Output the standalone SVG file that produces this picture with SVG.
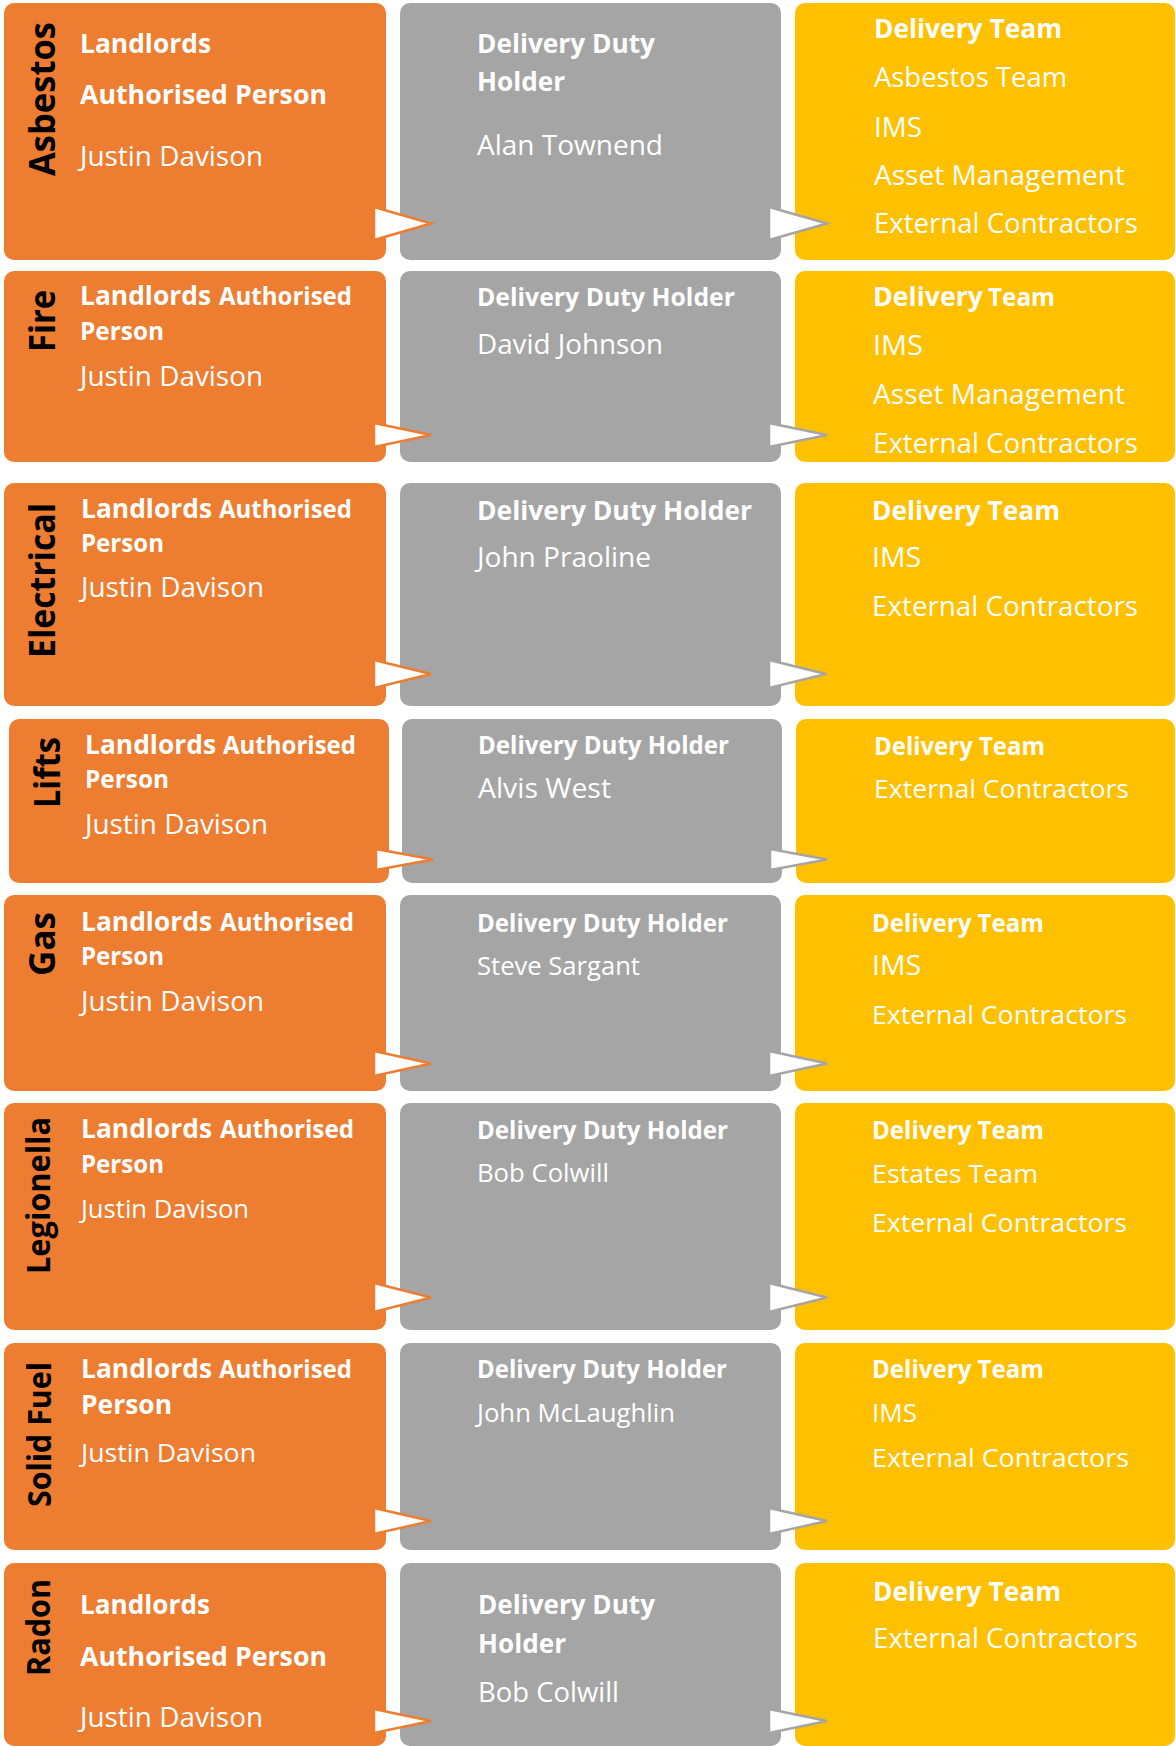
<svg xmlns="http://www.w3.org/2000/svg" width="1176" height="1746" viewBox="0 0 1176 1746">
<style>
.o{fill:#ED7D31}
.g{fill:#A5A5A5}
.y{fill:#FFC000}
text{font-family:"Open Sans","Noto Sans","Liberation Sans",sans-serif;fill:#FFFFFF}
.bL{font-weight:700;font-size:27px}
.bS{font-weight:700;font-size:25px}
.rL{font-weight:400;font-size:28px}
.rS{font-weight:400;font-size:26px}
.lbl{font-weight:700;font-size:35px;fill:#000000}
.lbs{font-weight:700;font-size:33px;fill:#000000}
.ao{fill:#FFFFFF;stroke:#ED7D31;stroke-width:2.5}
.ag{fill:#FFFFFF;stroke:#A5A5A5;stroke-width:2.5}
</style>

<!-- Row 1: Asbestos -->
<g id="asbestos-authorised">
<rect class="o" x="4" y="3" width="382" height="257" rx="10"/>
<text class="lbl" transform="translate(55,22) rotate(-90)" text-anchor="end" textLength="154" lengthAdjust="spacingAndGlyphs">Asbestos</text>
<text class="bL" x="80" y="53" textLength="131" lengthAdjust="spacingAndGlyphs">Landlords</text>
<text class="bL" x="80" y="104" textLength="247" lengthAdjust="spacingAndGlyphs">Authorised Person</text>
<text class="rL" x="80" y="166" textLength="183" lengthAdjust="spacingAndGlyphs">Justin Davison</text>
</g>
<g id="asbestos-duty-holder">
<rect class="g" x="400" y="3" width="381" height="257" rx="10"/>
<text class="bL" x="477" y="53" textLength="178" lengthAdjust="spacingAndGlyphs">Delivery Duty</text>
<text class="bL" x="477" y="91" textLength="88" lengthAdjust="spacingAndGlyphs">Holder</text>
<text class="rL" x="477" y="155" textLength="186" lengthAdjust="spacingAndGlyphs">Alan Townend</text>
</g>
<g id="asbestos-delivery-team">
<rect class="y" x="795" y="3" width="380" height="257" rx="10"/>
<text class="bL" x="874" y="38" textLength="188" lengthAdjust="spacingAndGlyphs">Delivery Team</text>
<text class="rL" x="874" y="87" textLength="193" lengthAdjust="spacingAndGlyphs">Asbestos Team</text>
<text class="rL" x="874" y="137" textLength="48" lengthAdjust="spacingAndGlyphs">IMS</text>
<text class="rL" x="874" y="185" textLength="251" lengthAdjust="spacingAndGlyphs">Asset Management</text>
<text class="rL" x="874" y="233" textLength="264" lengthAdjust="spacingAndGlyphs">External Contractors</text>
</g>

<!-- Row 2: Fire -->
<g id="fire-authorised">
<rect class="o" x="4" y="271" width="382" height="191" rx="10"/>
<text class="lbl" transform="translate(55,290) rotate(-90)" text-anchor="end" textLength="62" lengthAdjust="spacingAndGlyphs">Fire</text>
<text class="bL" x="80" y="305" textLength="131" lengthAdjust="spacingAndGlyphs">Landlords</text>
<text class="bS" x="219" y="305" textLength="133" lengthAdjust="spacingAndGlyphs">Authorised</text>
<text class="bS" x="80" y="340" textLength="84" lengthAdjust="spacingAndGlyphs">Person</text>
<text class="rL" x="80" y="386" textLength="183" lengthAdjust="spacingAndGlyphs">Justin Davison</text>
</g>
<g id="fire-duty-holder">
<rect class="g" x="400" y="271" width="381" height="191" rx="10"/>
<text class="bS" x="477" y="306" textLength="258" lengthAdjust="spacingAndGlyphs">Delivery Duty Holder</text>
<text class="rL" x="477" y="354" textLength="186" lengthAdjust="spacingAndGlyphs">David Johnson</text>
</g>
<g id="fire-delivery-team">
<rect class="y" x="795" y="271" width="380" height="191" rx="10"/>
<text class="bL" x="873" y="306" textLength="110" lengthAdjust="spacingAndGlyphs">Delivery</text>
<text class="bS" x="988" y="306" textLength="67" lengthAdjust="spacingAndGlyphs">Team</text>
<text class="rL" x="873" y="355" textLength="50" lengthAdjust="spacingAndGlyphs">IMS</text>
<text class="rL" x="873" y="404" textLength="252" lengthAdjust="spacingAndGlyphs">Asset Management</text>
<text class="rL" x="873" y="453" textLength="265" lengthAdjust="spacingAndGlyphs">External Contractors</text>
</g>

<!-- Row 3: Electrical -->
<g id="electrical-authorised">
<rect class="o" x="4" y="483" width="382" height="223" rx="10"/>
<text class="lbl" transform="translate(55,503) rotate(-90)" text-anchor="end" textLength="155" lengthAdjust="spacingAndGlyphs">Electrical</text>
<text class="bL" x="81" y="518" textLength="131" lengthAdjust="spacingAndGlyphs">Landlords</text>
<text class="bS" x="219" y="518" textLength="133" lengthAdjust="spacingAndGlyphs">Authorised</text>
<text class="bS" x="81" y="552" textLength="83" lengthAdjust="spacingAndGlyphs">Person</text>
<text class="rL" x="81" y="597" textLength="183" lengthAdjust="spacingAndGlyphs">Justin Davison</text>
</g>
<g id="electrical-duty-holder">
<rect class="g" x="400" y="483" width="381" height="223" rx="10"/>
<text class="bL" x="477" y="520" textLength="275" lengthAdjust="spacingAndGlyphs">Delivery Duty Holder</text>
<text class="rL" x="477" y="567" textLength="174" lengthAdjust="spacingAndGlyphs">John Praoline</text>
</g>
<g id="electrical-delivery-team">
<rect class="y" x="795" y="483" width="380" height="223" rx="10"/>
<text class="bL" x="872" y="520" textLength="188" lengthAdjust="spacingAndGlyphs">Delivery Team</text>
<text class="rL" x="872" y="567" textLength="49" lengthAdjust="spacingAndGlyphs">IMS</text>
<text class="rL" x="872" y="616" textLength="266" lengthAdjust="spacingAndGlyphs">External Contractors</text>
</g>

<!-- Row 4: Lifts -->
<g id="lifts-authorised">
<rect class="o" x="9" y="719" width="380" height="164" rx="10"/>
<text class="lbl" transform="translate(60,737) rotate(-90)" text-anchor="end" textLength="71" lengthAdjust="spacingAndGlyphs">Lifts</text>
<text class="bL" x="85" y="754" textLength="131" lengthAdjust="spacingAndGlyphs">Landlords</text>
<text class="bS" x="223" y="754" textLength="133" lengthAdjust="spacingAndGlyphs">Authorised</text>
<text class="bS" x="85" y="788" textLength="84" lengthAdjust="spacingAndGlyphs">Person</text>
<text class="rL" x="85" y="834" textLength="183" lengthAdjust="spacingAndGlyphs">Justin Davison</text>
</g>
<g id="lifts-duty-holder">
<rect class="g" x="402" y="719" width="380" height="164" rx="10"/>
<text class="bS" x="478" y="754" textLength="251" lengthAdjust="spacingAndGlyphs">Delivery Duty Holder</text>
<text class="rL" x="478" y="798" textLength="133" lengthAdjust="spacingAndGlyphs">Alvis West</text>
</g>
<g id="lifts-delivery-team">
<rect class="y" x="796" y="719" width="379" height="164" rx="10"/>
<text class="bS" x="874" y="755" textLength="171" lengthAdjust="spacingAndGlyphs">Delivery Team</text>
<text class="rS" x="874" y="798" textLength="255" lengthAdjust="spacingAndGlyphs">External Contractors</text>
</g>

<!-- Row 5: Gas -->
<g id="gas-authorised">
<rect class="o" x="4" y="895" width="382" height="196" rx="10"/>
<text class="lbl" transform="translate(55,912) rotate(-90)" text-anchor="end" textLength="64" lengthAdjust="spacingAndGlyphs">Gas</text>
<text class="bL" x="81" y="931" textLength="131" lengthAdjust="spacingAndGlyphs">Landlords</text>
<text class="bS" x="220" y="931" textLength="134" lengthAdjust="spacingAndGlyphs">Authorised</text>
<text class="bS" x="81" y="965" textLength="83" lengthAdjust="spacingAndGlyphs">Person</text>
<text class="rL" x="81" y="1011" textLength="183" lengthAdjust="spacingAndGlyphs">Justin Davison</text>
</g>
<g id="gas-duty-holder">
<rect class="g" x="400" y="895" width="381" height="196" rx="10"/>
<text class="bS" x="477" y="932" textLength="251" lengthAdjust="spacingAndGlyphs">Delivery Duty Holder</text>
<text class="rS" x="477" y="975" textLength="163" lengthAdjust="spacingAndGlyphs">Steve Sargant</text>
</g>
<g id="gas-delivery-team">
<rect class="y" x="795" y="895" width="380" height="196" rx="10"/>
<text class="bS" x="872" y="932" textLength="172" lengthAdjust="spacingAndGlyphs">Delivery Team</text>
<text class="rL" x="872" y="975" textLength="49" lengthAdjust="spacingAndGlyphs">IMS</text>
<text class="rS" x="872" y="1024" textLength="255" lengthAdjust="spacingAndGlyphs">External Contractors</text>
</g>

<!-- Row 6: Legionella -->
<g id="legionella-authorised">
<rect class="o" x="4" y="1103" width="382" height="227" rx="10"/>
<text class="lbs" transform="translate(50,1117) rotate(-90)" text-anchor="end" textLength="157" lengthAdjust="spacingAndGlyphs">Legionella</text>
<text class="bL" x="81" y="1138" textLength="131" lengthAdjust="spacingAndGlyphs">Landlords</text>
<text class="bS" x="220" y="1138" textLength="134" lengthAdjust="spacingAndGlyphs">Authorised</text>
<text class="bS" x="81" y="1173" textLength="83" lengthAdjust="spacingAndGlyphs">Person</text>
<text class="rS" x="81" y="1218" textLength="168" lengthAdjust="spacingAndGlyphs">Justin Davison</text>
</g>
<g id="legionella-duty-holder">
<rect class="g" x="400" y="1103" width="381" height="227" rx="10"/>
<text class="bS" x="477" y="1139" textLength="251" lengthAdjust="spacingAndGlyphs">Delivery Duty Holder</text>
<text class="rS" x="477" y="1182" textLength="132" lengthAdjust="spacingAndGlyphs">Bob Colwill</text>
</g>
<g id="legionella-delivery-team">
<rect class="y" x="795" y="1103" width="380" height="227" rx="10"/>
<text class="bS" x="872" y="1139" textLength="172" lengthAdjust="spacingAndGlyphs">Delivery Team</text>
<text class="rS" x="872" y="1183" textLength="166" lengthAdjust="spacingAndGlyphs">Estates Team</text>
<text class="rS" x="872" y="1232" textLength="255" lengthAdjust="spacingAndGlyphs">External Contractors</text>
</g>

<!-- Row 7: Solid Fuel -->
<g id="solid-fuel-authorised">
<rect class="o" x="4" y="1343" width="382" height="207" rx="10"/>
<text class="lbs" transform="translate(51,1362) rotate(-90)" text-anchor="end" textLength="145" lengthAdjust="spacingAndGlyphs">Solid Fuel</text>
<text class="bL" x="81" y="1378" textLength="131" lengthAdjust="spacingAndGlyphs">Landlords</text>
<text class="bS" x="219" y="1378" textLength="133" lengthAdjust="spacingAndGlyphs">Authorised</text>
<text class="bL" x="81" y="1414" textLength="91" lengthAdjust="spacingAndGlyphs">Person</text>
<text class="rS" x="81" y="1462" textLength="175" lengthAdjust="spacingAndGlyphs">Justin Davison</text>
</g>
<g id="solid-fuel-duty-holder">
<rect class="g" x="400" y="1343" width="381" height="207" rx="10"/>
<text class="bS" x="477" y="1378" textLength="250" lengthAdjust="spacingAndGlyphs">Delivery Duty Holder</text>
<text class="rS" x="477" y="1422" textLength="198" lengthAdjust="spacingAndGlyphs">John McLaughlin</text>
</g>
<g id="solid-fuel-delivery-team">
<rect class="y" x="795" y="1343" width="380" height="207" rx="10"/>
<text class="bS" x="872" y="1378" textLength="172" lengthAdjust="spacingAndGlyphs">Delivery Team</text>
<text class="rS" x="872" y="1422" textLength="45" lengthAdjust="spacingAndGlyphs">IMS</text>
<text class="rS" x="872" y="1467" textLength="257" lengthAdjust="spacingAndGlyphs">External Contractors</text>
</g>

<!-- Row 8: Radon -->
<g id="radon-authorised">
<rect class="o" x="4" y="1563" width="382" height="183" rx="10"/>
<text class="lbs" transform="translate(50,1579) rotate(-90)" text-anchor="end" textLength="97" lengthAdjust="spacingAndGlyphs">Radon</text>
<text class="bL" x="80" y="1614" textLength="130" lengthAdjust="spacingAndGlyphs">Landlords</text>
<text class="bL" x="80" y="1666" textLength="247" lengthAdjust="spacingAndGlyphs">Authorised Person</text>
<text class="rL" x="80" y="1727" textLength="183" lengthAdjust="spacingAndGlyphs">Justin Davison</text>
</g>
<g id="radon-duty-holder">
<rect class="g" x="400" y="1563" width="381" height="183" rx="10"/>
<text class="bL" x="478" y="1614" textLength="177" lengthAdjust="spacingAndGlyphs">Delivery Duty</text>
<text class="bL" x="478" y="1653" textLength="88" lengthAdjust="spacingAndGlyphs">Holder</text>
<text class="rL" x="478" y="1702" textLength="141" lengthAdjust="spacingAndGlyphs">Bob Colwill</text>
</g>
<g id="radon-delivery-team">
<rect class="y" x="795" y="1563" width="380" height="183" rx="10"/>
<text class="bL" x="873" y="1601" textLength="188" lengthAdjust="spacingAndGlyphs">Delivery Team</text>
<text class="rL" x="873" y="1648" textLength="265" lengthAdjust="spacingAndGlyphs">External Contractors</text>
</g>

<!-- Connectors -->
<g id="connectors">
<polygon class="ao" points="374,207 431,223.5 374,240"/>
<polygon class="ag" points="769,207 827,223.5 769,240"/>
<polygon class="ao" points="374,423 431,435 374,447"/>
<polygon class="ag" points="769,423 827,435 769,447"/>
<polygon class="ao" points="374,660 431,674 374,688"/>
<polygon class="ag" points="769,660 826,674 769,688"/>
<polygon class="ao" points="376,849 433,859.5 376,870"/>
<polygon class="ag" points="770,849 827,859.5 770,870"/>
<polygon class="ao" points="374,1051 431,1063.5 374,1076"/>
<polygon class="ag" points="769,1051 827,1063.5 769,1076"/>
<polygon class="ao" points="374,1283 431,1297.5 374,1312"/>
<polygon class="ag" points="769,1283 827,1297.5 769,1312"/>
<polygon class="ao" points="374,1508 431,1521 374,1534"/>
<polygon class="ag" points="769,1508 827,1521 769,1534"/>
<polygon class="ao" points="374,1709 431,1721 374,1733"/>
<polygon class="ag" points="769,1709 827,1721 769,1733"/>
</g>
</svg>
